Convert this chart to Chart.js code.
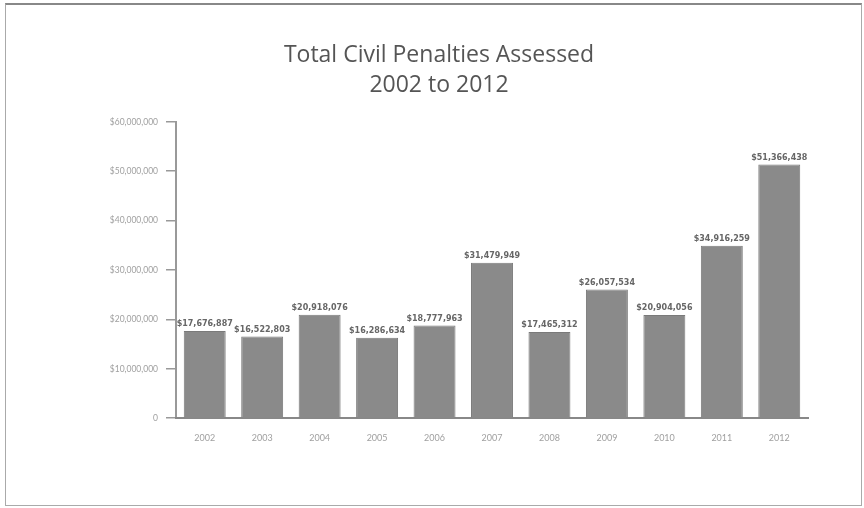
<!DOCTYPE html>
<html>
    <head>
        <meta charset="utf-8">
        <title>Total Civil Penalties Assessed</title>
        <script src="https://cdn.jsdelivr.net/npm/chart.js@4.4.0/dist/chart.umd.min.js"></script>
        <style>
            body { margin: 0; background: #fff; }
            #frame {
                position: absolute; left: 5px; top: 3px; width: 855px; height: 500px;
                border: 1px solid #aaa; border-top: 2px solid #888;
            }
            #wrap { position: absolute; left: 0; top: 0; width: 864px; height: 508px; }
        </style>
    </head>
    <body>
        <div id="frame"></div>
        <div id="wrap"><canvas id="myChart" width="864" height="508"></canvas></div>

        <script>
        // years and penalty totals (USD)
        const years = ['2002', '2003', '2004', '2005', '2006', '2007', '2008', '2009', '2010', '2011', '2012'];
        const penalties = [17676887, 16522803, 20918076, 16286634, 18777963, 31479949, 17465312, 26057534, 20904056, 34916259, 51366438];
        const titleLines = ['Total Civil Penalties Assessed', '2002 to 2012'];

        function money(v) {
            if (v === 0) return '0';
            return '$' + v.toLocaleString('en-US');
        }

        // value labels above each bar
        const barLabels = {
            id: 'barLabels',
            afterDatasetsDraw(chart) {
                const ctx = chart.ctx;
                const meta = chart.getDatasetMeta(0);
                ctx.save();
                ctx.font = 'bold 8px "DejaVu Sans"';
                ctx.fillStyle = '#666';
                ctx.textAlign = 'center';
                ctx.textBaseline = 'bottom';
                meta.data.forEach(function (bar, i) {
                    ctx.fillText(money(penalties[i]), bar.x, bar.y - 3);
                });
                ctx.restore();
            }
        };

        const ctx = document.getElementById('myChart').getContext('2d');
        let myChart = new Chart(ctx, {
            type: 'bar',
            data: {
                labels: years,
                datasets: [{
                    data: penalties,
                    backgroundColor: '#8a8a8a',
                    borderColor: '#7a7a7a',
                    borderWidth: 1,
                    barPercentage: 0.73,
                    categoryPercentage: 1
                }]
            },
            options: {
                responsive: false,
                animation: false,
                layout: { padding: { left: 70, right: 56, top: 41, bottom: 59 } },
                plugins: {
                    legend: { display: false },
                    tooltip: { enabled: false },
                    title: {
                        display: true,
                        text: titleLines,
                        color: '#555',
                        font: { family: 'Open Sans', size: 23, weight: 'normal', lineHeight: 1.3 },
                        padding: { top: 0, bottom: 21 }
                    }
                },
                scales: {
                    y: {
                        min: 0,
                        max: 60000000,
                        afterFit: function (scale) { scale.width = 106; },
                        ticks: {
                            stepSize: 10000000,
                            color: '#a0a0a0',
                            font: { family: 'Lato', size: 8.5 },
                            padding: 8,
                            callback: function (v) { return money(v); }
                        },
                        grid: { drawOnChartArea: false, tickLength: 10, color: '#999', lineWidth: 1.5 },
                        border: { color: '#999', width: 2 }
                    },
                    x: {
                        ticks: { color: '#a0a0a0', font: { family: 'Lato', size: 9 }, padding: 6 },
                        grid: { display: false },
                        border: { color: '#888', width: 2 }
                    }
                }
            },
            plugins: [barLabels]
        });
        </script>
    </body>
</html>
